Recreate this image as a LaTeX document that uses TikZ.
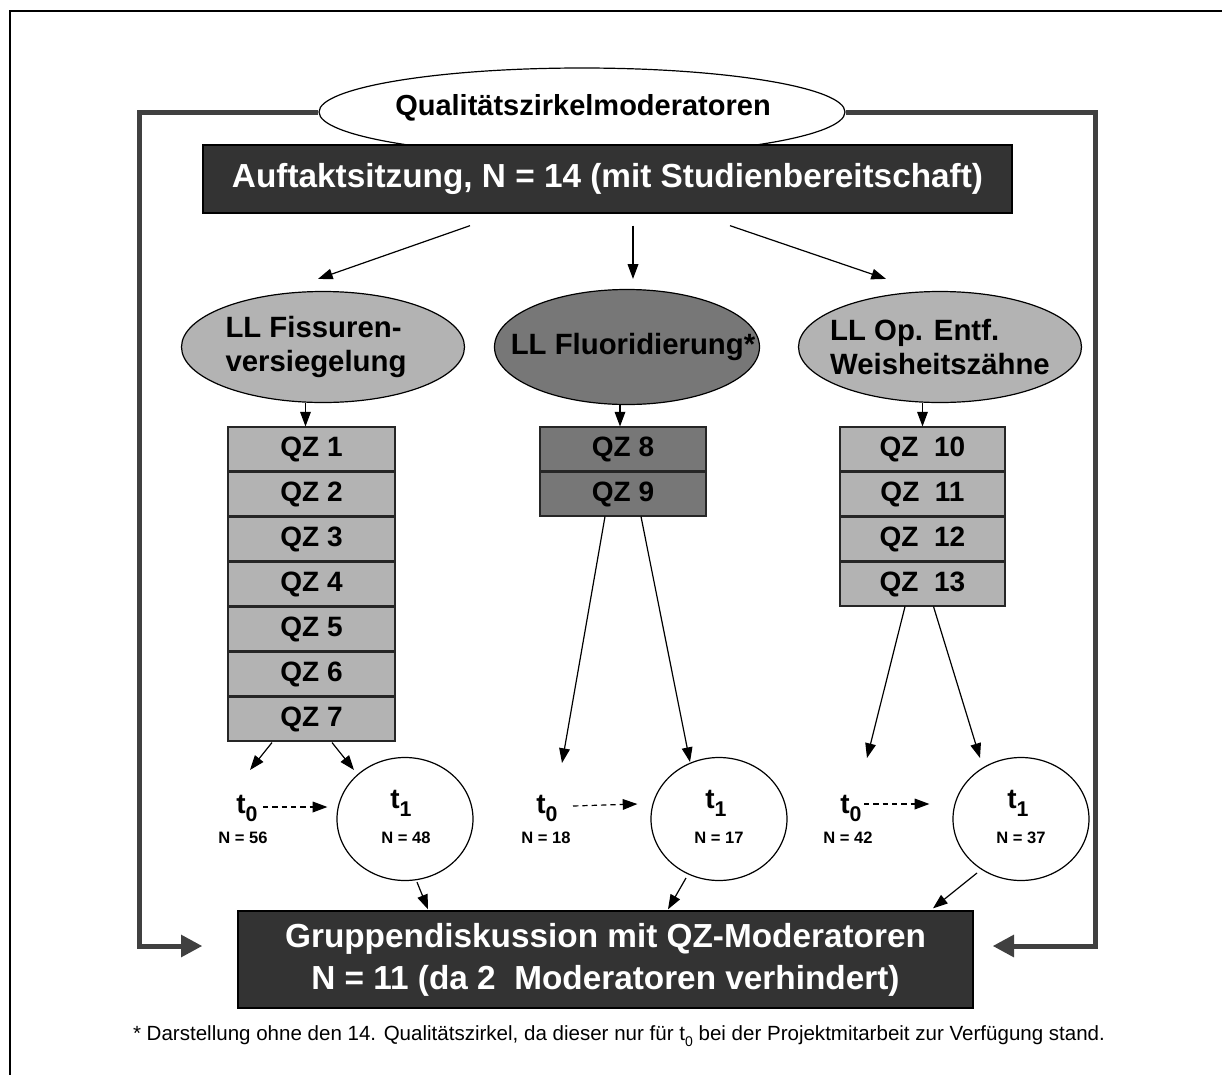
\documentclass[tikz,border=0pt]{standalone}
\usepackage{fontspec}
\setmainfont{Liberation Sans}
\usetikzlibrary{shapes.geometric,arrows.meta,calc}
\newlength\px \setlength\px{0.75pt}
\definecolor{boxdark}{HTML}{333333}
\definecolor{linedark}{HTML}{404040}
\definecolor{greylight}{HTML}{B3B3B3}
\definecolor{greymid}{HTML}{777777}
\newcommand\tsub[2]{#1\raisebox{-0.55ex}{\fontsize{16}{16}\selectfont #2}}
\tikzset{
  arr/.style={-{Triangle[length=11pt,width=8pt]}, line width=0.9pt},
  dasharr/.style={arr, dash pattern=on 4pt off 3pt},
  fb/.style={linedark, line width=3.75pt, -{Triangle[length=16pt,width=16pt]}},
  darkbox/.style={draw=black, line width=1pt, fill=boxdark, text=white, inner sep=0pt, align=center, font=\fontsize{25}{31.5}\selectfont\bfseries},
  llell/.style={ellipse, draw=black, line width=0.9pt, inner sep=0pt, minimum width=283\px, minimum height=111\px},
  lltext/.style={align=left, inner sep=0pt, font=\fontsize{22}{26}\selectfont\bfseries},
  qzbox/.style={draw=black!85, line width=0.8pt, minimum width=167\px, minimum height=44\px, inner sep=0pt, font=\fontsize{21}{21}\selectfont\bfseries},
  tcirc/.style={ellipse, draw=black, line width=0.9pt, inner sep=0pt, minimum width=136\px, minimum height=123\px},
  tlabel/.style={anchor=base, inner sep=0pt, font=\fontsize{21}{21}\selectfont\bfseries},
  nlabel/.style={anchor=base, inner sep=0pt, font=\fontsize{12.4}{12.4}\selectfont\bfseries}
}
\begin{document}
\begin{tikzpicture}[x=0.75pt, y=-0.75pt]
  \useasboundingbox (0,0) rectangle (1222,1075);
  % frame
  \draw[line width=1.1pt] (1222,11) -- (10,11) -- (10,1075);

  % head
  \node[ellipse, draw=black, line width=0.9pt, fill=white, inner sep=0pt, minimum width=526\px, minimum height=88\px] (qzm) at (582,112) {};
  \node[inner sep=0pt, font=\fontsize{21.75}{26}\selectfont\bfseries] (qzmtxt) at (583,108) {Qualitätszirkelmoderatoren};
  \node[darkbox, minimum width=809\px, minimum height=68\px] (auft) at (607.5,179)
       {Auftaktsitzung, N = 14 (mit Studienbereitschaft)};

  % guidelines
  \node[llell, fill=greylight] (fiss) at (323,347) {};
  \node[lltext] (fisstxt) at (316,347) {LL Fissuren-\\versiegelung};
  \node[llell, fill=greymid, minimum width=265\px, minimum height=115\px] (fluor) at (627,347) {};
  \node[lltext] (fluortxt) at (633,347) {LL Fluoridierung*};
  \node[llell, fill=greylight] (weis) at (940,347) {};
  \node[lltext] (weistxt) at (940,347) {LL Op. Entf.\\Weisheitszähne};

  \draw[arr] ($(auft.south)+(-137.5,12)$) -- ($(fiss.north)+(-5,-12)$);
  \draw[arr] ($(auft.south)+(25.5,12)$) -- ($(fluor.north)+(6,-10)$);
  \draw[arr] ($(auft.south)+(122.5,12)$) -- ($(weis.north)+(-54,-12)$);

  % quality circles
  \foreach \i in {1,...,7}
    \node[qzbox, fill=greylight] (q\i) at (311.5,{404+45*\i}) {QZ \i};
  \foreach \i/\r in {8/1,9/2}
    \node[qzbox, fill=greymid, minimum width=166\px] (q\i) at (623,{404+45*\r}) {QZ \i};
  \foreach \i/\r in {10/1,11/2,12/3,13/4}
    \node[qzbox, fill=greylight, minimum width=165\px] (q\i) at (922.5,{404+45*\r}) {QZ~~\i};

  \draw[arr] ($(q1.north |- fiss.south)+(-6,0)$) -- ($(q1.north)+(-6,0)$);
  \draw[arr] ($(q8.north |- fluor.south)+(-3,0)$) -- ($(q8.north)+(-3,0)$);
  \draw[arr] (q10.north |- weis.south) -- (q10.north);

  % t0 / t1
  \node[tlabel] (t0a) at (247,813) {\tsub{t}{0}};
  \node[nlabel] (n0a) at (243,843) {N = 56};
  \node[tcirc] (t1a) at (405,819) {};
  \node[tlabel] (t1alab) at (401,808) {\tsub{t}{1}};
  \node[nlabel] (n1a) at (406,843) {N = 48};

  \node[tlabel] (t0b) at (547,813) {\tsub{t}{0}};
  \node[nlabel] (n0b) at (546,843) {N = 18};
  \node[tcirc] (t1b) at (719,819) {};
  \node[tlabel] (t1blab) at (716,808) {\tsub{t}{1}};
  \node[nlabel] (n1b) at (719,843) {N = 17};

  \node[tlabel] (t0c) at (851,813) {\tsub{t}{0}};
  \node[nlabel] (n0c) at (848,843) {N = 42};
  \node[tcirc] (t1c) at (1021,819) {};
  \node[tlabel] (t1clab) at (1018,808) {\tsub{t}{1}};
  \node[nlabel] (n1c) at (1021,843) {N = 37};

  \draw[arr] ($(q7.south)+(-39.5,1)$) -- ($(t0a.base)+(3,-43)$);
  \draw[arr] ($(q7.south)+(20.5,1)$) -- ($(t1a.center)+(-51,-49)$);
  \draw[arr] ($(q9.south)+(-18,0)$) -- ($(t0b.base)+(15,-50)$);
  \draw[arr] ($(q9.south)+(18,0)$) -- ($(t1b.center)+(-29,-57)$);
  \draw[arr] ($(q13.south)+(-17.5,0)$) -- ($(t0c.base)+(16,-55)$);
  \draw[arr] ($(q13.south)+(11,0)$) -- ($(t1c.center)+(-41,-61)$);

  \draw[dasharr] ($(t0a.base)+(16,-6)$) -- ($(t1a.west)+(-9,-12)$);
  \draw[dasharr] ($(t0b.base)+(26,-7)$) -- ($(t1b.west)+(-13,-15)$);
  \draw[dasharr] ($(t0c.base)+(13,-9)$) -- ($(t1c.west)+(-23,-15)$);

  % group discussion
  \node[darkbox, minimum width=735\px, minimum height=97\px] (grp) at (605.5,959.5)
       {Gruppendiskussion mit QZ-Moderatoren\\N = 11 (da 2~~Moderatoren verhindert)};

  \draw[arr] ($(t1a.south)+(12,1)$) -- ($(grp.north)+(-177.5,-1)$);
  \draw[arr] ($(t1b.center)+(-33,59)$) -- ($(grp.north)+(62.5,-1)$);
  \draw[arr] ($(t1c.center)+(-44,54)$) -- ($(grp.north)+(327.5,-2)$);

  % feedback
  \coordinate (fbL) at ($(grp.west)+(-35,-13.5)$);
  \coordinate (fbR) at ($(grp.east)+(19,-13.5)$);
  \draw[fb] (qzm.west) -| ($(fbL)+(-63,0)$) -- (fbL);
  \draw[fb] (qzm.east) -| ($(fbR)+(103,0)$) -- (fbR);

  \node[font=\fontsize{15.4}{15.4}\selectfont] (fn) at (619,1036)
       {* Darstellung ohne den 14. Qualitätszirkel, da dieser nur für t\raisebox{-0.5ex}{\fontsize{10.5}{10.5}\selectfont 0} bei der Projektmitarbeit zur Verfügung stand.};
\end{tikzpicture}
\end{document}
